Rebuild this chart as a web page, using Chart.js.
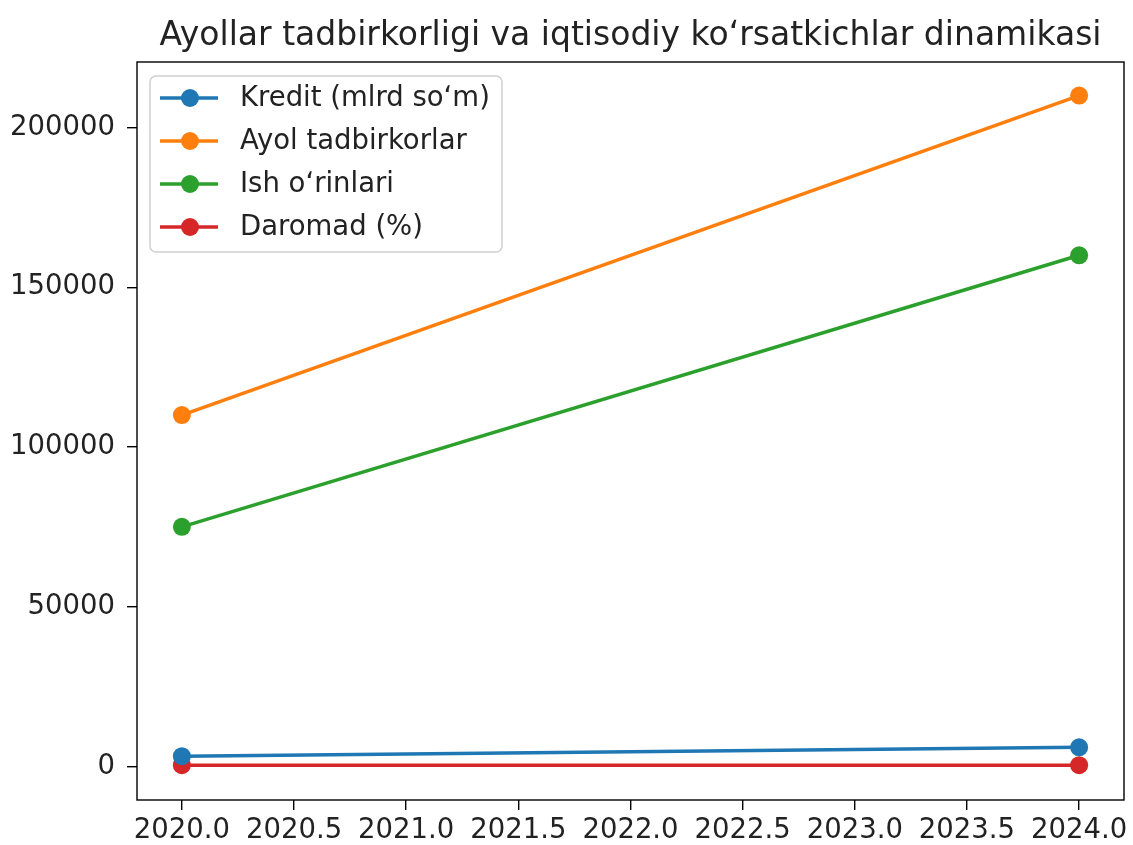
<!DOCTYPE html>
<html>
<head>
<meta charset="utf-8">
<script src="https://cdn.jsdelivr.net/npm/chart.js@4"></script>
<style>
  body { margin: 0; background: #fff; }
  canvas { display: block; }
</style>
</head>
<body>
<canvas id="chart" width="1133" height="845"></canvas>
<script>
// data
const years = [2020, 2024];
const kredit = [3200, 6000];
const ayolTadbirkorlar = [110000, 210000];
const ishOrinlari = [75000, 160000];
const daromad = [400, 400];

const chartTitle = 'Ayollar tadbirkorligi va iqtisodiy koʻrsatkichlar dinamikasi';
const seriesNames = ['Kredit (mlrd soʻm)', 'Ayol tadbirkorlar', 'Ish oʻrinlari', 'Daromad (%)'];
const seriesColors = ['#1f77b4', '#ff7f0e', '#2ca02c', '#d62728'];
const xTicks = [2020, 2020.5, 2021, 2021.5, 2022, 2022.5, 2023, 2023.5, 2024];
const yTicks = [0, 50000, 100000, 150000, 200000];

const FONT = 'DejaVu Sans';
const TEXT = '#222';
const TICK_SIZE = 27.5;

function toPoints(values) {
    return years.map((y, i) => ({ x: y, y: values[i] }));
}

function makeDataset(label, values, color) {
    return {
        label: label,
        data: toPoints(values),
        borderColor: color,
        backgroundColor: color,
        borderWidth: 3.5,
        pointRadius: 9,
        pointHoverRadius: 9,
        pointBorderWidth: 0,
        fill: false,
        tension: 0
    };
}

// black frame around the plot area + title centred over it
const frame = {
    id: 'frame',
    afterDraw(chart) {
        const a = chart.chartArea;
        const ctx = chart.ctx;
        ctx.save();
        ctx.strokeStyle = '#000';
        ctx.lineWidth = 1.4;
        ctx.strokeRect(a.left, a.top, a.right - a.left, a.bottom - a.top);

        ctx.fillStyle = TEXT;
        ctx.font = '33px "' + FONT + '"';
        ctx.textAlign = 'center';
        ctx.textBaseline = 'alphabetic';
        ctx.fillText(chartTitle, (a.left + a.right) / 2, 45);
        ctx.restore();
    }
};

// legend drawn inside the plot, top left
const insideLegend = {
    id: 'insideLegend',
    afterDatasetsDraw(chart) {
        const ctx = chart.ctx;
        const a = chart.chartArea;
        const x0 = a.left + 13, y0 = a.top + 14;
        const w = 352, h = 176, rowH = 43;
        ctx.save();
        ctx.beginPath();
        ctx.roundRect(x0, y0, w, h, 6);
        ctx.fillStyle = 'rgba(255,255,255,0.8)';
        ctx.fill();
        ctx.strokeStyle = '#d0d0d0';
        ctx.lineWidth = 1.5;
        ctx.stroke();

        ctx.font = TICK_SIZE + 'px "' + FONT + '"';
        ctx.textBaseline = 'middle';
        chart.data.datasets.forEach((ds, i) => {
            const cy = y0 + 22 + i * rowH;
            ctx.strokeStyle = ds.borderColor;
            ctx.lineWidth = 3.5;
            ctx.beginPath();
            ctx.moveTo(x0 + 10, cy);
            ctx.lineTo(x0 + 68, cy);
            ctx.stroke();
            ctx.fillStyle = ds.backgroundColor;
            ctx.beginPath();
            ctx.arc(x0 + 40, cy, 9, 0, Math.PI * 2);
            ctx.fill();
            ctx.fillStyle = TEXT;
            ctx.fillText(ds.label, x0 + 90, cy + 1);
        });
        ctx.restore();
    }
};

const ctx = document.getElementById('chart').getContext('2d');
const chart = new Chart(ctx, {
    type: 'line',
    data: {
        datasets: [
            makeDataset(seriesNames[0], kredit, seriesColors[0]),
            makeDataset(seriesNames[1], ayolTadbirkorlar, seriesColors[1]),
            makeDataset(seriesNames[2], ishOrinlari, seriesColors[2]),
            makeDataset(seriesNames[3], daromad, seriesColors[3])
        ]
    },
    options: {
        responsive: false,
        animation: false,
        layout: { padding: { left: 0, right: 5, top: 62, bottom: 0 } },
        plugins: {
            legend: { display: false },
            tooltip: { enabled: false },
            title: { display: false }
        },
        scales: {
            x: {
                type: 'linear',
                min: 2019.8,
                max: 2024.2,
                afterBuildTicks: scale => { scale.ticks = xTicks.map(v => ({ value: v })); },
                afterFit: scale => { scale.height = 45; },
                grid: { drawOnChartArea: false, drawTicks: true, tickLength: 10, color: '#000', lineWidth: 1.4 },
                border: { display: false },
                ticks: {
                    color: TEXT,
                    padding: 4,
                    maxRotation: 0,
                    autoSkip: false,
                    font: { family: FONT, size: TICK_SIZE },
                    callback: v => v.toFixed(1)
                }
            },
            y: {
                min: -10500,
                max: 220500,
                afterBuildTicks: scale => { scale.ticks = yTicks.map(v => ({ value: v })); },
                afterFit: scale => { scale.width = 137; },
                grid: { drawOnChartArea: false, drawTicks: true, tickLength: 10, color: '#000', lineWidth: 1.4 },
                border: { display: false },
                ticks: {
                    color: TEXT,
                    padding: 12,
                    font: { family: FONT, size: TICK_SIZE },
                    callback: v => String(v)
                }
            }
        }
    },
    plugins: [frame, insideLegend]
});
</script>
</body>
</html>
